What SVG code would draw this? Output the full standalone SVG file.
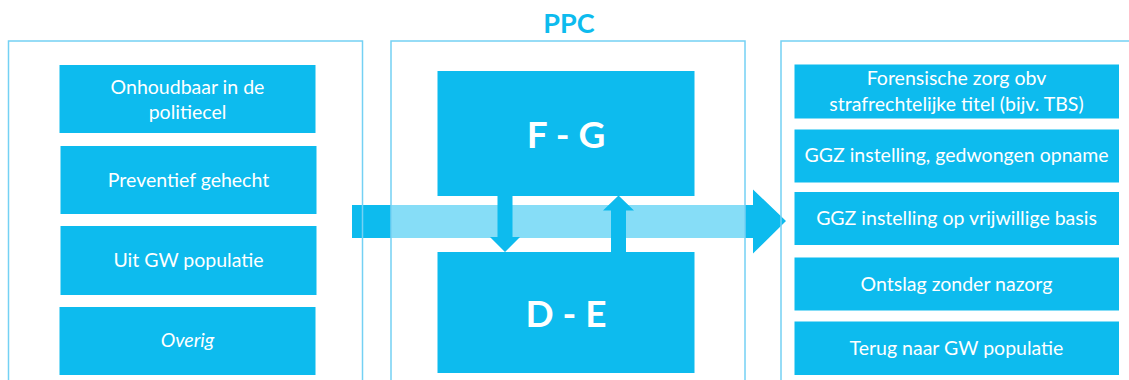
<svg xmlns="http://www.w3.org/2000/svg" width="1129" height="380" viewBox="0 0 1129 380">
<style>
.panel{fill:none;stroke:#74D1F4;stroke-width:1.5}
.box{fill:#0DBBEE}
.t{font-family:Lato,"Open Sans",sans-serif;font-size:19.5px;fill:#FFFFFF;text-anchor:middle}
.big{font-family:Lato,"Open Sans",sans-serif;font-size:37px;font-weight:bold;fill:#FFFFFF;text-anchor:middle}
.title{font-family:Lato,"Open Sans",sans-serif;font-size:27px;font-weight:bold;fill:#0DBBEE;text-anchor:middle}
</style>
<rect width="1129" height="380" fill="#FFFFFF"/>
<g id="connectors">
<polygon id="flow-arrow" class="box" points="352,205 753,205 753,189.5 786,221 753,253.5 753,238 352,238"/>
<rect x="391" y="205" width="354" height="33" fill="#FFFFFF" fill-opacity="0.5"/>
</g>
<g id="panel-left"><rect class="panel" x="8.5" y="41" width="354" height="360"/></g>
<g id="panel-ppc"><rect class="panel" x="391" y="41" width="354" height="360"/>
<text class="title" x="569" y="33">PPC</text></g>
<g id="panel-right"><rect class="panel" x="781" y="41" width="360" height="360"/></g>
<g id="left-1"><rect class="box" x="59.5" y="65" width="256" height="68"/>
<text class="t" x="187.5" y="94">Onhoudbaar in de</text><text class="t" x="187.5" y="119">politiecel</text></g>
<g id="left-2"><rect class="box" x="60.5" y="146" width="256" height="68"/>
<text class="t" x="188.5" y="187">Preventief gehecht</text></g>
<g id="left-3"><rect class="box" x="60.5" y="226" width="256" height="69"/>
<text class="t" x="188.5" y="267">Uit GW populatie</text></g>
<g id="left-4"><rect class="box" x="59.5" y="307" width="256" height="68"/>
<text class="t" x="187.5" y="347" font-style="italic">Overig</text></g>
<g id="fg"><rect class="box" x="437.5" y="71" width="257" height="125"/>
<text class="big" x="566" y="148">F - G</text></g>
<g id="de"><rect class="box" x="437.5" y="252" width="257" height="121"/>
<text class="big" x="566" y="327">D - E</text></g>
<g id="transfer-arrows">
<polygon class="box" points="497.5,195 512.5,195 512.5,237 520,237 505,252 490,237 497.5,237"/>
<polygon class="box" points="611,252 626,252 626,210.5 634,210.5 618.5,195.5 603,210.5 611,210.5"/>
</g>
<g id="right-1"><rect class="box" x="794.5" y="64.5" width="324.5" height="54"/>
<text class="t" x="956.5" y="85">Forensische zorg obv</text><text class="t" x="956.5" y="110.5">strafrechtelijke titel (bijv. TBS)</text></g>
<g id="right-2"><rect class="box" x="794.5" y="129.5" width="324.5" height="53"/>
<text class="t" x="956.5" y="162">GGZ instelling, gedwongen opname</text></g>
<g id="right-3"><rect class="box" x="794.5" y="192" width="324.5" height="53"/>
<text class="t" x="956.5" y="225">GGZ instelling op vrijwillige basis</text></g>
<g id="right-4"><rect class="box" x="794.5" y="257.5" width="324.5" height="53"/>
<text class="t" x="956.5" y="291">Ontslag zonder nazorg</text></g>
<g id="right-5"><rect class="box" x="794.5" y="321.5" width="324.5" height="53.5"/>
<text class="t" x="956.5" y="355">Terug naar GW populatie</text></g>
</svg>
